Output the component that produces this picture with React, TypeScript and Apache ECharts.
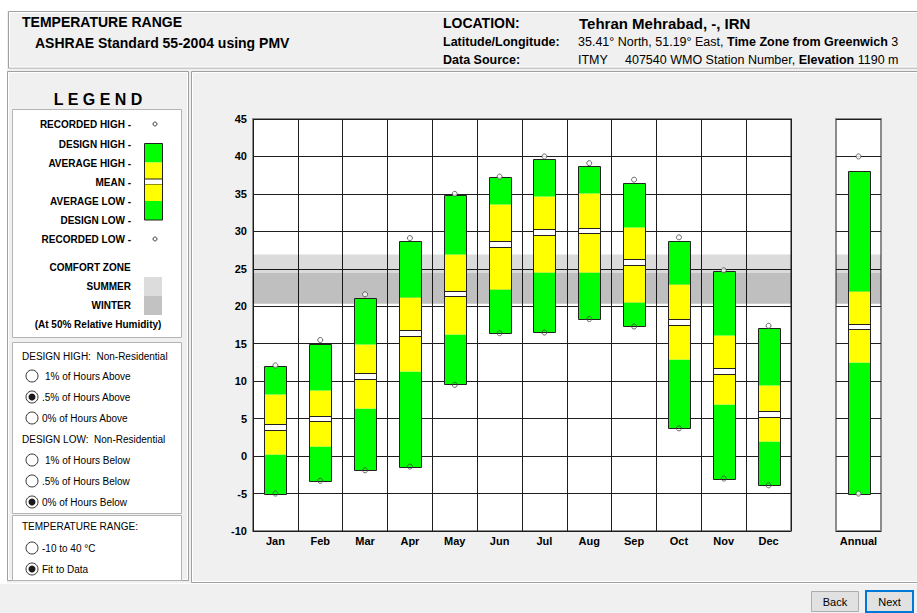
import React, { useEffect, useRef } from "react";
import * as echarts from "echarts";

// ---------- data ----------
const months = ["Jan", "Feb", "Mar", "Apr", "May", "Jun", "Jul", "Aug", "Sep", "Oct", "Nov", "Dec"];
const recordedHigh = [12.1, 15.5, 21.6, 29.1, 35.0, 37.3, 40.0, 39.1, 36.9, 29.2, 24.8, 17.4];
const designHigh = [12.0, 15.0, 21.1, 28.7, 34.8, 37.2, 39.7, 38.7, 36.5, 28.7, 24.7, 17.1];
const averageHigh = [8.3, 8.8, 15.0, 21.3, 27.0, 33.6, 34.7, 35.1, 30.6, 23.0, 16.2, 9.5];
const meanTemp = [3.9, 5.0, 10.7, 16.4, 21.7, 28.3, 29.9, 30.1, 25.9, 17.9, 11.4, 5.6];
const averageLow = [0.3, 1.3, 6.4, 11.3, 16.3, 22.3, 24.6, 24.6, 20.6, 12.9, 6.9, 2.0];
const designLow = [-5.0, -3.3, -1.9, -1.4, 9.6, 16.4, 16.5, 18.3, 17.3, 3.7, -3.0, -3.9];
const recordedLow = [-5.0, -3.3, -1.9, -1.4, 9.5, 16.4, 16.5, 18.3, 17.3, 3.7, -3.0, -3.9];

const annualCategory = ["Annual"];
const annualRecordedHigh = [40.0];
const annualDesignHigh = [38.0];
const annualAverageHigh = [22.0];
const annualMean = [17.3];
const annualAverageLow = [12.5];
const annualDesignLow = [-5.0];
const annualRecordedLow = [-5.0];

const summerZone = [24.45, 26.9];
const winterZone = [20.35, 24.45];

const yMin = -10;
const yMax = 45;
const yInterval = 5;

// ---------- styling ----------
const GREEN = "#00ff00";
const YELLOW = "#ffff00";
const EDGE = "#222222";
const FONT = "Arial, 'Liberation Sans', sans-serif";
const MEAN_HALF = 0.38;

function renderBar(params: any, api: any) {
  const i = api.value(0);
  const dl = api.value(1);
  const al = api.value(2);
  const mn = api.value(3);
  const ah = api.value(4);
  const dh = api.value(5);
  const band = api.size([1, 0])[0];
  const w = Math.round(band * 0.49);
  const cx = api.coord([i, 0])[0];
  const x0 = Math.round(cx - w / 2) + 0.5;
  const y = (v: number) => Math.round(api.coord([i, v])[1]) + 0.5;
  const seg = (a: number, b: number, color: string) => ({
    type: "rect",
    shape: { x: x0, y: y(b), width: w, height: y(a) - y(b) },
    style: { fill: color },
  });
  const hline = (v: number) => ({
    type: "line",
    shape: { x1: x0, y1: y(v), x2: x0 + w, y2: y(v) },
    style: { stroke: EDGE, lineWidth: 1 },
  });
  return {
    type: "group",
    children: [
      seg(dl, al, GREEN),
      seg(al, mn - MEAN_HALF, YELLOW),
      seg(mn - MEAN_HALF, mn + MEAN_HALF, "#ffffff"),
      seg(mn + MEAN_HALF, ah, YELLOW),
      seg(ah, dh, GREEN),
      hline(mn - MEAN_HALF),
      hline(mn + MEAN_HALF),
      {
        type: "rect",
        shape: { x: x0, y: y(dh), width: w, height: y(dl) - y(dh) },
        style: { fill: "none", stroke: EDGE, lineWidth: 1 },
      },
    ],
  };
}

function renderZone(params: any, api: any) {
  const cs = params.coordSys;
  const lo = api.coord([0, api.value(1)])[1];
  const hi = api.coord([0, api.value(2)])[1];
  return {
    type: "rect",
    shape: { x: cs.x, y: hi, width: cs.width, height: lo - hi },
    style: { fill: api.value(3) === 1 ? "rgba(0,0,0,0.14)" : "rgba(0,0,0,0.25)" },
  };
}

// ---------- graphic helpers ----------
function txt(x: number, y: number, text: string, size: number, bold: boolean, align = "left", extra: any = {}) {
  return {
    type: "text",
    x,
    y,
    silent: true,
    z: 10,
    style: {
      text,
      fontFamily: FONT,
      fontSize: size,
      fontWeight: bold ? "bold" : "normal",
      fill: "#000",
      align,
      textAlign: align,
      verticalAlign: "middle",
      textVerticalAlign: "middle",
      ...extra,
    },
  };
}
function rect(x: number, y: number, w: number, h: number, fill: string, stroke?: string, lw = 1) {
  return {
    type: "rect",
    silent: true,
    z: 5,
    shape: { x, y, width: w, height: h },
    style: { fill, stroke: stroke || "none", lineWidth: lw },
  };
}
function radio(x: number, y: number, selected: boolean) {
  const els: any[] = [
    { type: "circle", silent: true, z: 10, shape: { cx: x, cy: y, r: 6 }, style: { fill: "#fff", stroke: "#333", lineWidth: 1 } },
  ];
  if (selected) {
    els.push({ type: "circle", silent: true, z: 11, shape: { cx: x, cy: y, r: 3.5 }, style: { fill: "#1a1a1a" } });
  }
  return els;
}

function buildGraphics() {
  const g: any[] = [];
  // background pieces
  g.push(rect(0, 0, 917, 11, "#ffffff"));
  g.push(rect(0, 0, 7, 583, "#ffffff"));
  // header box
  g.push(rect(8.5, 11.5, 915, 56.5, "#f0f0f0", "#a0a0a0"));
  g.push(rect(9.5, 12.5, 915, 54.5, "none", "#ffffff"));
  // left panel
  g.push(rect(7.5, 71.5, 181, 509, "#f0f0f0", "#a0a0a0"));
  g.push(rect(8.5, 72.5, 179, 507, "none", "#ffffff"));
  // main panel
  g.push(rect(191.5, 71.5, 730, 511, "#f0f0f0", "#a0a0a0"));
  g.push(rect(192.5, 72.5, 730, 509, "none", "#ffffff"));
  g.push({ type: "line", silent: true, z: 5, shape: { x1: 0, y1: 583.5, x2: 917, y2: 583.5 }, style: { stroke: "#ffffff", lineWidth: 1 } });

  // header texts
  g.push(txt(22, 22, "TEMPERATURE RANGE", 14, true));
  g.push(txt(35, 43, "ASHRAE Standard 55-2004 using PMV", 14, true));
  g.push(txt(443, 23, "LOCATION:", 14, true));
  g.push(txt(579, 23, "Tehran Mehrabad, -, IRN", 15, true));
  g.push(txt(443, 42, "Latitude/Longitude:", 12.5, true));
  g.push(txt(443, 60, "Data Source:", 12.5, true));
  g.push(
    txt(578, 42, "35.41° North, 51.19° East, {b|Time Zone from Greenwich} 3", 12.5, false, "left", {
      rich: { b: { fontFamily: FONT, fontSize: 12.5, fontWeight: "bold", fill: "#000" } },
    })
  );
  g.push(txt(578, 60, "ITMY", 12.5, false));
  g.push(
    txt(625, 60, "407540 WMO Station Number, {b|Elevation} 1190 m", 12.5, false, "left", {
      rich: { b: { fontFamily: FONT, fontSize: 12.5, fontWeight: "bold", fill: "#000" } },
    })
  );

  // legend
  g.push(txt(98, 99, "L E G E N D", 16, true, "center"));
  g.push(rect(12.5, 109.5, 169, 228, "#ffffff", "#b4b4b4"));
  const legendLabels = ["RECORDED HIGH -", "DESIGN HIGH -", "AVERAGE HIGH -", "MEAN -", "AVERAGE LOW -", "DESIGN LOW -", "RECORDED LOW -"];
  const legendY = [124, 144, 163, 182, 201, 220, 239];
  legendLabels.forEach((l, k) => g.push(txt(131, legendY[k], l, 10, true, "right")));
  g.push({ type: "circle", silent: true, z: 10, shape: { cx: 155, cy: 124, r: 2 }, style: { fill: "#fff", stroke: "#444", lineWidth: 1 } });
  g.push({ type: "circle", silent: true, z: 10, shape: { cx: 155, cy: 239, r: 2 }, style: { fill: "#fff", stroke: "#444", lineWidth: 1 } });
  g.push(rect(144.5, 143.5, 18, 19, GREEN));
  g.push(rect(144.5, 162.5, 18, 16.5, YELLOW));
  g.push(rect(144.5, 179, 18, 5.5, "#ffffff", EDGE));
  g.push(rect(144.5, 184.5, 18, 16.5, YELLOW));
  g.push(rect(144.5, 201, 18, 19, GREEN));
  g.push(rect(144.5, 143.5, 18, 76.5, "none", EDGE));
  g.push(txt(90, 267, "COMFORT ZONE", 10, true, "center"));
  g.push(txt(131, 286, "SUMMER", 10, true, "right"));
  g.push(txt(131, 305, "WINTER", 10, true, "right"));
  g.push(rect(144, 277, 18, 19, "#dcdcdc"));
  g.push(rect(144, 296, 18, 19, "#c2c2c2"));
  g.push(txt(98, 324, "(At 50% Relative Humidity)", 10, true, "center"));

  // design box
  g.push(rect(12.5, 342.5, 169, 171, "#ffffff", "#b4b4b4"));
  g.push(txt(22, 356, "DESIGN HIGH:  Non-Residential", 10, false));
  const dhOpts = ["1% of Hours Above", ".5% of Hours Above", "0% of Hours Above"];
  const dhY = [376, 397, 418];
  dhOpts.forEach((o, k) => {
    g.push(...radio(32, dhY[k], k === 1));
    g.push(txt(k === 0 ? 45 : 42, dhY[k], o, 10, false));
  });
  g.push(txt(22, 439, "DESIGN LOW:  Non-Residential", 10, false));
  const dlOpts = ["1% of Hours Below", ".5% of Hours Below", "0% of Hours Below"];
  const dlY = [460, 481, 502];
  dlOpts.forEach((o, k) => {
    g.push(...radio(32, dlY[k], k === 2));
    g.push(txt(k === 0 ? 45 : 42, dlY[k], o, 10, false));
  });

  // temperature range box
  g.push(rect(12.5, 515.5, 169, 65, "#ffffff", "#b4b4b4"));
  g.push(txt(22, 526, "TEMPERATURE RANGE:", 10, false));
  g.push(...radio(32, 548, false));
  g.push(txt(42, 548, "-10 to 40 °C", 10, false));
  g.push(...radio(32, 569, true));
  g.push(txt(42, 569, "Fit to Data", 10, false));

  // buttons
  g.push(rect(811.5, 591.5, 47, 20, "#e1e1e1", "#adadad"));
  g.push(txt(835, 602, "Back", 11, false, "center"));
  g.push(rect(866, 591, 47, 21, "#e1e1e1", "#0078d7", 2));
  g.push(txt(889.5, 602, "Next", 11, false, "center"));
  return g;
}

export default function App() {
  const ref = useRef<HTMLDivElement>(null);
  useEffect(() => {
    if (!ref.current) return;
    const chart = echarts.init(ref.current, undefined, { renderer: "svg" });

    const monthBars = months.map((_, i) => [i, designLow[i], averageLow[i], meanTemp[i], averageHigh[i], designHigh[i]]);
    const annualBars = annualCategory.map((_, i) => [
      i,
      annualDesignLow[i],
      annualAverageLow[i],
      annualMean[i],
      annualAverageHigh[i],
      annualDesignHigh[i],
    ]);
    const zones = [
      [0, summerZone[0], summerZone[1], 1],
      [0, winterZone[0], winterZone[1], 2],
    ];

    const axisLabelStyle = { color: "#000", fontWeight: "bold", fontSize: 11, fontFamily: FONT };
    const splitStyle = { color: "#1e1e1e", width: 1 };

    const option: any = {
      animation: false,
      backgroundColor: "#f0f0f0",
      graphic: { elements: buildGraphics() },
      grid: [
        { left: 253, top: 119, width: 538, height: 412, show: true, backgroundColor: "#ffffff", borderColor: "#8c8c8c", borderWidth: 2, z: 6 },
        { left: 836, top: 119, width: 45, height: 412, show: true, backgroundColor: "#ffffff", borderColor: "#8c8c8c", borderWidth: 2, z: 6 },
      ],
      xAxis: [
        {
          type: "category",
          gridIndex: 0,
          data: months,
          boundaryGap: true,
          axisLine: { show: false },
          axisTick: { show: false },
          axisLabel: { ...axisLabelStyle, margin: 4, interval: 0 },
          splitLine: { show: true, interval: 0, lineStyle: splitStyle },
          z: 6,
        },
        {
          type: "category",
          gridIndex: 1,
          data: annualCategory,
          boundaryGap: true,
          axisLine: { show: false },
          axisTick: { show: false },
          axisLabel: { ...axisLabelStyle, margin: 4 },
          splitLine: { show: false },
          z: 6,
        },
      ],
      yAxis: [
        {
          type: "value",
          gridIndex: 0,
          min: yMin,
          max: yMax,
          interval: yInterval,
          axisLine: { show: false },
          axisTick: { show: false },
          axisLabel: { ...axisLabelStyle, margin: 6 },
          splitLine: { show: true, lineStyle: splitStyle },
          z: 6,
        },
        {
          type: "value",
          gridIndex: 1,
          min: yMin,
          max: yMax,
          interval: yInterval,
          axisLine: { show: false },
          axisTick: { show: false },
          axisLabel: { show: false },
          splitLine: { show: true, lineStyle: splitStyle },
          z: 6,
        },
      ],
      series: [
        { type: "custom", xAxisIndex: 0, yAxisIndex: 0, z: 7, renderItem: renderZone, data: zones, silent: true },
        { type: "custom", xAxisIndex: 1, yAxisIndex: 1, z: 7, renderItem: renderZone, data: zones, silent: true },
        { type: "custom", name: "Monthly", xAxisIndex: 0, yAxisIndex: 0, z: 8, renderItem: renderBar, data: monthBars },
        { type: "custom", name: "Annual", xAxisIndex: 1, yAxisIndex: 1, z: 8, renderItem: renderBar, data: annualBars },
        {
          type: "scatter",
          name: "Recorded High",
          xAxisIndex: 0,
          yAxisIndex: 0,
          z: 9,
          symbol: "circle",
          symbolSize: 5,
          itemStyle: { color: "#ffffff", borderColor: "#444", borderWidth: 1 },
          data: months.map((_, i) => [i, recordedHigh[i]]),
        },
        {
          type: "scatter",
          name: "Recorded Low",
          xAxisIndex: 0,
          yAxisIndex: 0,
          z: 9,
          symbol: "circle",
          symbolSize: 5,
          itemStyle: { color: "rgba(0,0,0,0)", borderColor: "#444", borderWidth: 1 },
          data: months.map((_, i) => [i, recordedLow[i]]),
        },
        {
          type: "scatter",
          name: "Annual Recorded",
          xAxisIndex: 1,
          yAxisIndex: 1,
          z: 9,
          symbol: "circle",
          symbolSize: 5,
          itemStyle: { color: "#ffffff", borderColor: "#444", borderWidth: 1 },
          data: [
            [0, annualRecordedHigh[0]],
            [0, annualRecordedLow[0]],
          ],
        },
      ],
    };
    chart.setOption(option);
    return () => chart.dispose();
  }, []);

  return <div ref={ref} style={{ position: "fixed", left: 0, top: 0, width: 917, height: 613 }} />;
}
